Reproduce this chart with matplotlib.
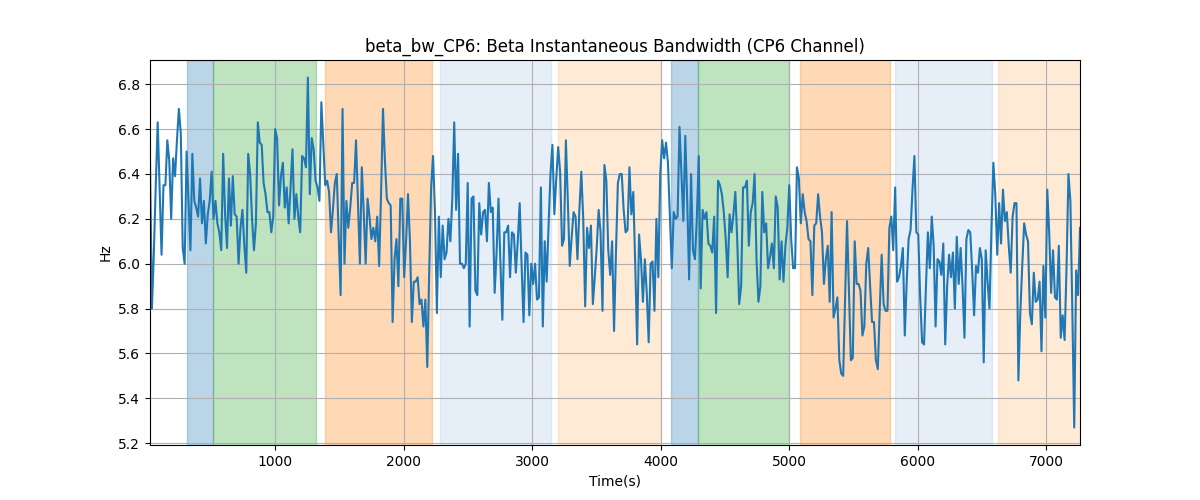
import numpy as np
import matplotlib
matplotlib.use("Agg")
import matplotlib.pyplot as plt

# beta bandwidth values (Hz), sampled every ~15 s
bw_values = [
    # 0 - 900 s
    6.46, 5.80, 6.05, 6.35, 6.63, 6.33, 6.04, 6.35, 6.35, 6.55,
    6.46, 6.20, 6.47, 6.39, 6.55, 6.69, 6.58, 6.07, 6.00, 6.50,
    6.28, 6.06, 6.49, 6.28, 6.25, 6.21, 6.38, 6.18, 6.28, 6.09,
    6.22, 6.28, 6.41, 6.20, 6.28, 6.18, 6.14, 6.06, 6.49, 6.22,
    6.07, 6.38, 6.17, 6.39, 6.22, 6.21, 6.00, 6.16, 6.24, 6.08,
    5.96, 6.49, 6.40, 6.20, 6.06, 6.18, 6.63, 6.54,
    # ~900 - 1800 s
    6.53, 6.36, 6.31, 6.23, 6.23, 6.14, 6.21, 6.60, 6.56, 6.26,
    6.39, 6.45, 6.25, 6.34, 6.18, 6.34, 6.51, 6.20, 6.31, 6.21,
    6.14, 6.48, 6.47, 6.43, 6.83, 6.31, 6.56, 6.51, 6.37, 6.34,
    6.28, 6.72, 6.54, 6.35, 6.37, 6.32, 6.14, 6.24, 6.36, 6.40,
    6.12, 5.86, 6.69, 6.00, 6.28, 6.16, 6.25, 6.36, 6.36, 6.55,
    6.28, 6.00, 6.43, 6.23, 6.00, 6.29, 6.21, 6.11, 6.16, 6.10,
    6.21,
    # ~1800 - 2700 s
    5.99, 6.31, 6.69, 6.46, 6.29, 6.27, 6.26, 5.74, 6.02, 6.11,
    5.90, 6.29, 6.29, 5.94, 6.10, 6.31, 6.10, 5.74, 5.92, 5.92,
    5.94, 5.82, 5.84, 5.72, 5.84, 5.54, 5.96, 6.34, 6.48, 6.23,
    5.78, 6.21, 5.94, 6.17, 6.02, 6.05, 6.20, 6.10, 6.29, 6.63,
    6.24, 6.49, 6.00, 6.00, 5.98, 6.00, 6.36, 5.72, 6.29, 6.30,
    5.88, 5.86, 6.27, 6.13, 6.23, 6.24, 6.10, 6.36, 6.23, 6.25,
    # ~2700 - 3600 s
    5.87, 6.05, 6.29, 6.00, 5.75, 6.14, 6.14, 6.17, 5.94, 6.14,
    6.13, 5.96, 6.10, 6.27, 5.99, 5.74, 6.05, 6.04, 5.77, 6.00,
    5.91, 6.00, 5.84, 5.85, 6.34, 5.72, 6.10, 5.92, 6.17, 6.40,
    6.53, 6.22, 6.38, 6.52, 6.41, 6.08, 6.11, 6.55, 6.28, 5.99,
    6.12, 6.23, 6.21, 6.02, 6.24, 6.41, 6.20, 5.81, 6.16, 6.07,
    6.17, 5.82, 5.94, 6.07, 6.24, 6.14, 5.79, 6.44, 6.37, 6.06,
    5.95,
    # ~3600 - 4500 s
    6.10, 5.70, 6.05, 6.36, 6.40, 6.40, 6.24, 6.14, 6.15, 6.43,
    6.22, 6.32, 6.00, 5.64, 6.13, 6.02, 5.83, 6.02, 5.87, 5.65,
    6.00, 6.01, 5.79, 6.20, 5.94, 6.40, 6.55, 6.47, 6.54, 6.45,
    6.21, 5.98, 6.23, 6.20, 6.21, 6.61, 6.40, 6.19, 6.57, 6.28,
    5.93, 6.40, 6.06, 6.02, 6.20, 6.48, 5.89, 6.24, 6.20, 6.23,
    6.09, 6.08, 6.05, 6.21, 5.78, 6.37, 6.35, 6.31, 6.23, 6.11,
    # ~4500 - 5400 s
    5.94, 6.22, 6.14, 6.22, 6.32, 6.10, 5.82, 5.90, 6.34, 6.34,
    6.37, 6.08, 6.23, 6.27, 6.40, 6.02, 5.83, 5.90, 6.32, 6.14,
    6.18, 5.98, 6.03, 6.09, 5.98, 6.30, 6.25, 5.93, 6.10, 5.92,
    6.08, 6.16, 6.35, 6.11, 5.98, 5.98, 6.43, 6.38, 6.18, 6.31,
    6.23, 6.19, 6.11, 6.10, 5.86, 6.17, 6.18, 6.31, 6.21, 6.14,
    5.91, 6.02, 6.08, 5.83, 6.23, 5.76, 5.80, 5.85, 5.57, 5.51,
    # ~5400 - 6300 s
    5.50, 5.85, 6.19, 5.88, 5.57, 5.58, 6.10, 5.91, 5.91, 5.88,
    5.68, 5.72, 6.00, 6.07, 5.90, 5.74, 5.74, 5.57, 5.53, 5.80,
    6.04, 5.82, 5.79, 5.79, 6.16, 6.21, 6.06, 6.34, 5.92, 5.94,
    5.99, 6.07, 5.68, 5.92, 6.11, 6.15, 6.33, 6.48, 6.14, 6.13,
    5.85, 5.65, 5.64, 5.90, 6.14, 5.98, 6.21, 6.08, 5.72, 6.02,
    6.01, 5.95, 6.09, 5.64, 5.90, 6.04, 5.94, 6.05, 5.80, 6.12,
    5.91,
    # ~6300 - 7264 s
    6.07, 5.90, 5.67, 6.11, 6.15, 6.14, 5.97, 5.77, 5.99, 5.96,
    6.07, 6.02, 5.56, 6.06, 5.92, 5.80, 6.15, 6.45, 6.31, 6.04,
    6.27, 6.09, 6.33, 6.19, 6.23, 6.08, 5.96, 6.21, 6.27, 6.27,
    5.48, 5.78, 5.99, 6.18, 6.13, 6.10, 5.78, 5.73, 5.96, 5.83,
    5.84, 5.92, 5.61, 5.99, 5.76, 6.33, 6.14, 5.87, 6.06, 5.85,
    5.84, 6.08, 5.67, 5.77, 5.66, 5.98, 6.40, 6.28, 5.80, 5.27,
    5.97, 5.86, 6.16,
]
t_start, t_end = 23, 7264

# task phases (start s, end s, colour)
phase_start = [309, 514, 1382, 2278, 3198, 4079, 4292, 5084, 5822, 6627]
phase_end = [514, 1317, 2221, 3149, 3998, 4292, 5001, 5783, 6581, 7300]
phase_color = ["tab:blue", "tab:green", "tab:orange", "#aec7e8", "#ffbb78",
               "tab:blue", "tab:green", "tab:orange", "#aec7e8", "#ffbb78"]

times = np.linspace(t_start, t_end, len(bw_values))

fig, ax = plt.subplots(figsize=(12, 5))
for a, b, c in zip(phase_start, phase_end, phase_color):
    ax.axvspan(a, b, color=c, alpha=0.3)
ax.plot(times, bw_values, color="tab:blue")

ax.set_xlim(times[0], times[-1])
ax.set_title("beta_bw_CP6: Beta Instantaneous Bandwidth (CP6 Channel)")
ax.set_xlabel("Time(s)")
ax.set_ylabel("Hz")
ax.grid(True)
fig.savefig("out.png", dpi=100)
